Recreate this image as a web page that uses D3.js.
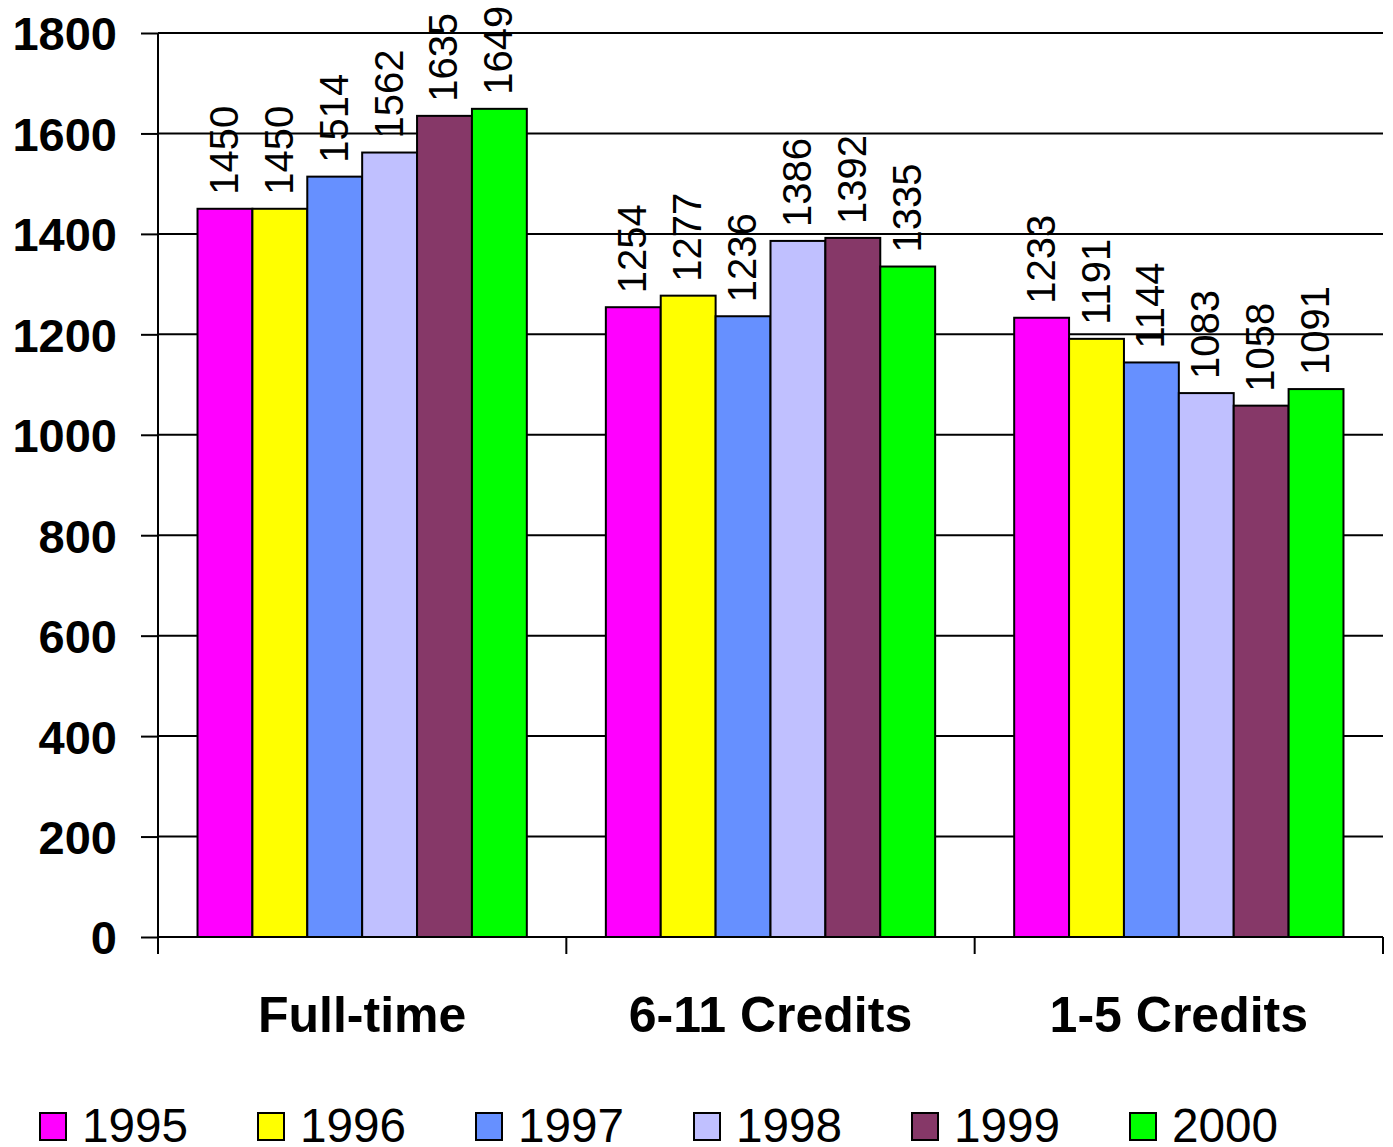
<!DOCTYPE html>
<html>
<head>
    <style>
        body { margin: 0; background: #fff; }
        svg { font-family: Arial, "Liberation Sans", sans-serif; }
        .ytick { font-size: 47px; font-weight: bold; }
        .cat { font-size: 50px; font-weight: bold; }
        .val { font-size: 40px; }
        .leg { font-size: 48px; }
    </style>
    <script src="https://d3js.org/d3.v7.min.js"></script>
</head>
<body>
    <svg width="1393" height="1147"></svg>
    <script>
        var categories = ["Full-time", "6-11 Credits", "1-5 Credits"];
        var years = ["1995", "1996", "1997", "1998", "1999", "2000"];
        var v1995 = [1450, 1254, 1233];
        var v1996 = [1450, 1277, 1191];
        var v1997 = [1514, 1236, 1144];
        var v1998 = [1562, 1386, 1083];
        var v1999 = [1635, 1392, 1058];
        var v2000 = [1649, 1335, 1091];
        var yTicks = [0, 200, 400, 600, 800, 1000, 1200, 1400, 1600, 1800];
        var colors = ["#ff00ff", "#ffff00", "#6690ff", "#c0c0ff", "#863868", "#00ff00"];

        var series = [v1995, v1996, v1997, v1998, v1999, v2000];

        var svg = d3.select("svg");
        var pLeft = 158, pRight = 1383, pTop = 33, pBottom = 937;

        var y = d3.scaleLinear().domain([0, 1800]).range([pBottom, pTop]);
        var x0 = d3.scaleBand().domain(categories).range([pLeft, pRight]);
        var x1 = d3.scaleBand().domain(years).range([0, x0.bandwidth()]).paddingOuter(0.72);
        var color = d3.scaleOrdinal(years, colors);

        // gridlines
        svg.append("g").selectAll("line").data(yTicks.filter(function(d){ return d > 0; }))
            .enter().append("line")
            .attr("x1", pLeft).attr("x2", pRight)
            .attr("y1", function(d){ return y(d); }).attr("y2", function(d){ return y(d); })
            .attr("stroke", "#000").attr("stroke-width", 2);

        // bars
        var rows = [];
        categories.forEach(function(c, ci){
            years.forEach(function(yr, yi){
                rows.push({cat: c, year: yr, value: series[yi][ci]});
            });
        });

        var bars = svg.append("g").selectAll("g").data(rows).enter().append("g");
        bars.append("rect")
            .attr("x", function(d){ return x0(d.cat) + x1(d.year); })
            .attr("y", function(d){ return y(d.value); })
            .attr("width", x1.bandwidth())
            .attr("height", function(d){ return pBottom - y(d.value); })
            .attr("fill", function(d){ return color(d.year); })
            .attr("stroke", "#000").attr("stroke-width", 2);

        bars.append("text").attr("class", "val")
            .attr("transform", function(d){
                var cx = x0(d.cat) + x1(d.year) + x1.bandwidth() / 2 + 13;
                return "translate(" + cx + "," + (y(d.value) - 14) + ") rotate(-90)";
            })
            .text(function(d){ return d.value; });

        // y axis
        var yAxis = d3.axisLeft(y).tickValues(yTicks).tickFormat(d3.format("d")).tickSize(17).tickPadding(24);
        var ya = svg.append("g").attr("transform", "translate(" + pLeft + ",0)").call(yAxis);
        ya.attr("font-family", null).attr("font-size", null);
        ya.select(".domain").attr("stroke", "#000").attr("stroke-width", 2).attr("d", "M0," + pBottom + "V" + pTop);
        ya.selectAll(".tick line").attr("stroke", "#000").attr("stroke-width", 2);
        ya.selectAll(".tick text").attr("class", "ytick").attr("fill", "#000").attr("dy", "0.36em");

        // x axis
        svg.append("line").attr("x1", pLeft).attr("x2", pRight).attr("y1", pBottom).attr("y2", pBottom)
            .attr("stroke", "#000").attr("stroke-width", 2);
        var edges = categories.map(function(c){ return x0(c); }).concat([pRight]);
        svg.append("g").selectAll("line").data(edges).enter().append("line")
            .attr("x1", function(d){ return d; }).attr("x2", function(d){ return d; })
            .attr("y1", pBottom).attr("y2", pBottom + 17)
            .attr("stroke", "#000").attr("stroke-width", 2);
        svg.append("g").selectAll("text").data(categories).enter().append("text")
            .attr("class", "cat")
            .attr("x", function(d){ return x0(d) + x0.bandwidth() / 2; })
            .attr("y", 1032)
            .attr("text-anchor", "middle")
            .text(function(d){ return d; });

        // legend
        var leg = svg.append("g").selectAll("g").data(years).enter().append("g")
            .attr("transform", function(d, i){ return "translate(" + (40 + i * 218) + ",1113)"; });
        leg.append("rect").attr("width", 26).attr("height", 27)
            .attr("fill", function(d){ return color(d); })
            .attr("stroke", "#000").attr("stroke-width", 2);
        leg.append("text").attr("class", "leg").attr("x", 42).attr("y", 29)
            .attr("textLength", 106).attr("lengthAdjust", "spacingAndGlyphs")
            .text(function(d){ return d; });
    </script>
</body>
</html>
